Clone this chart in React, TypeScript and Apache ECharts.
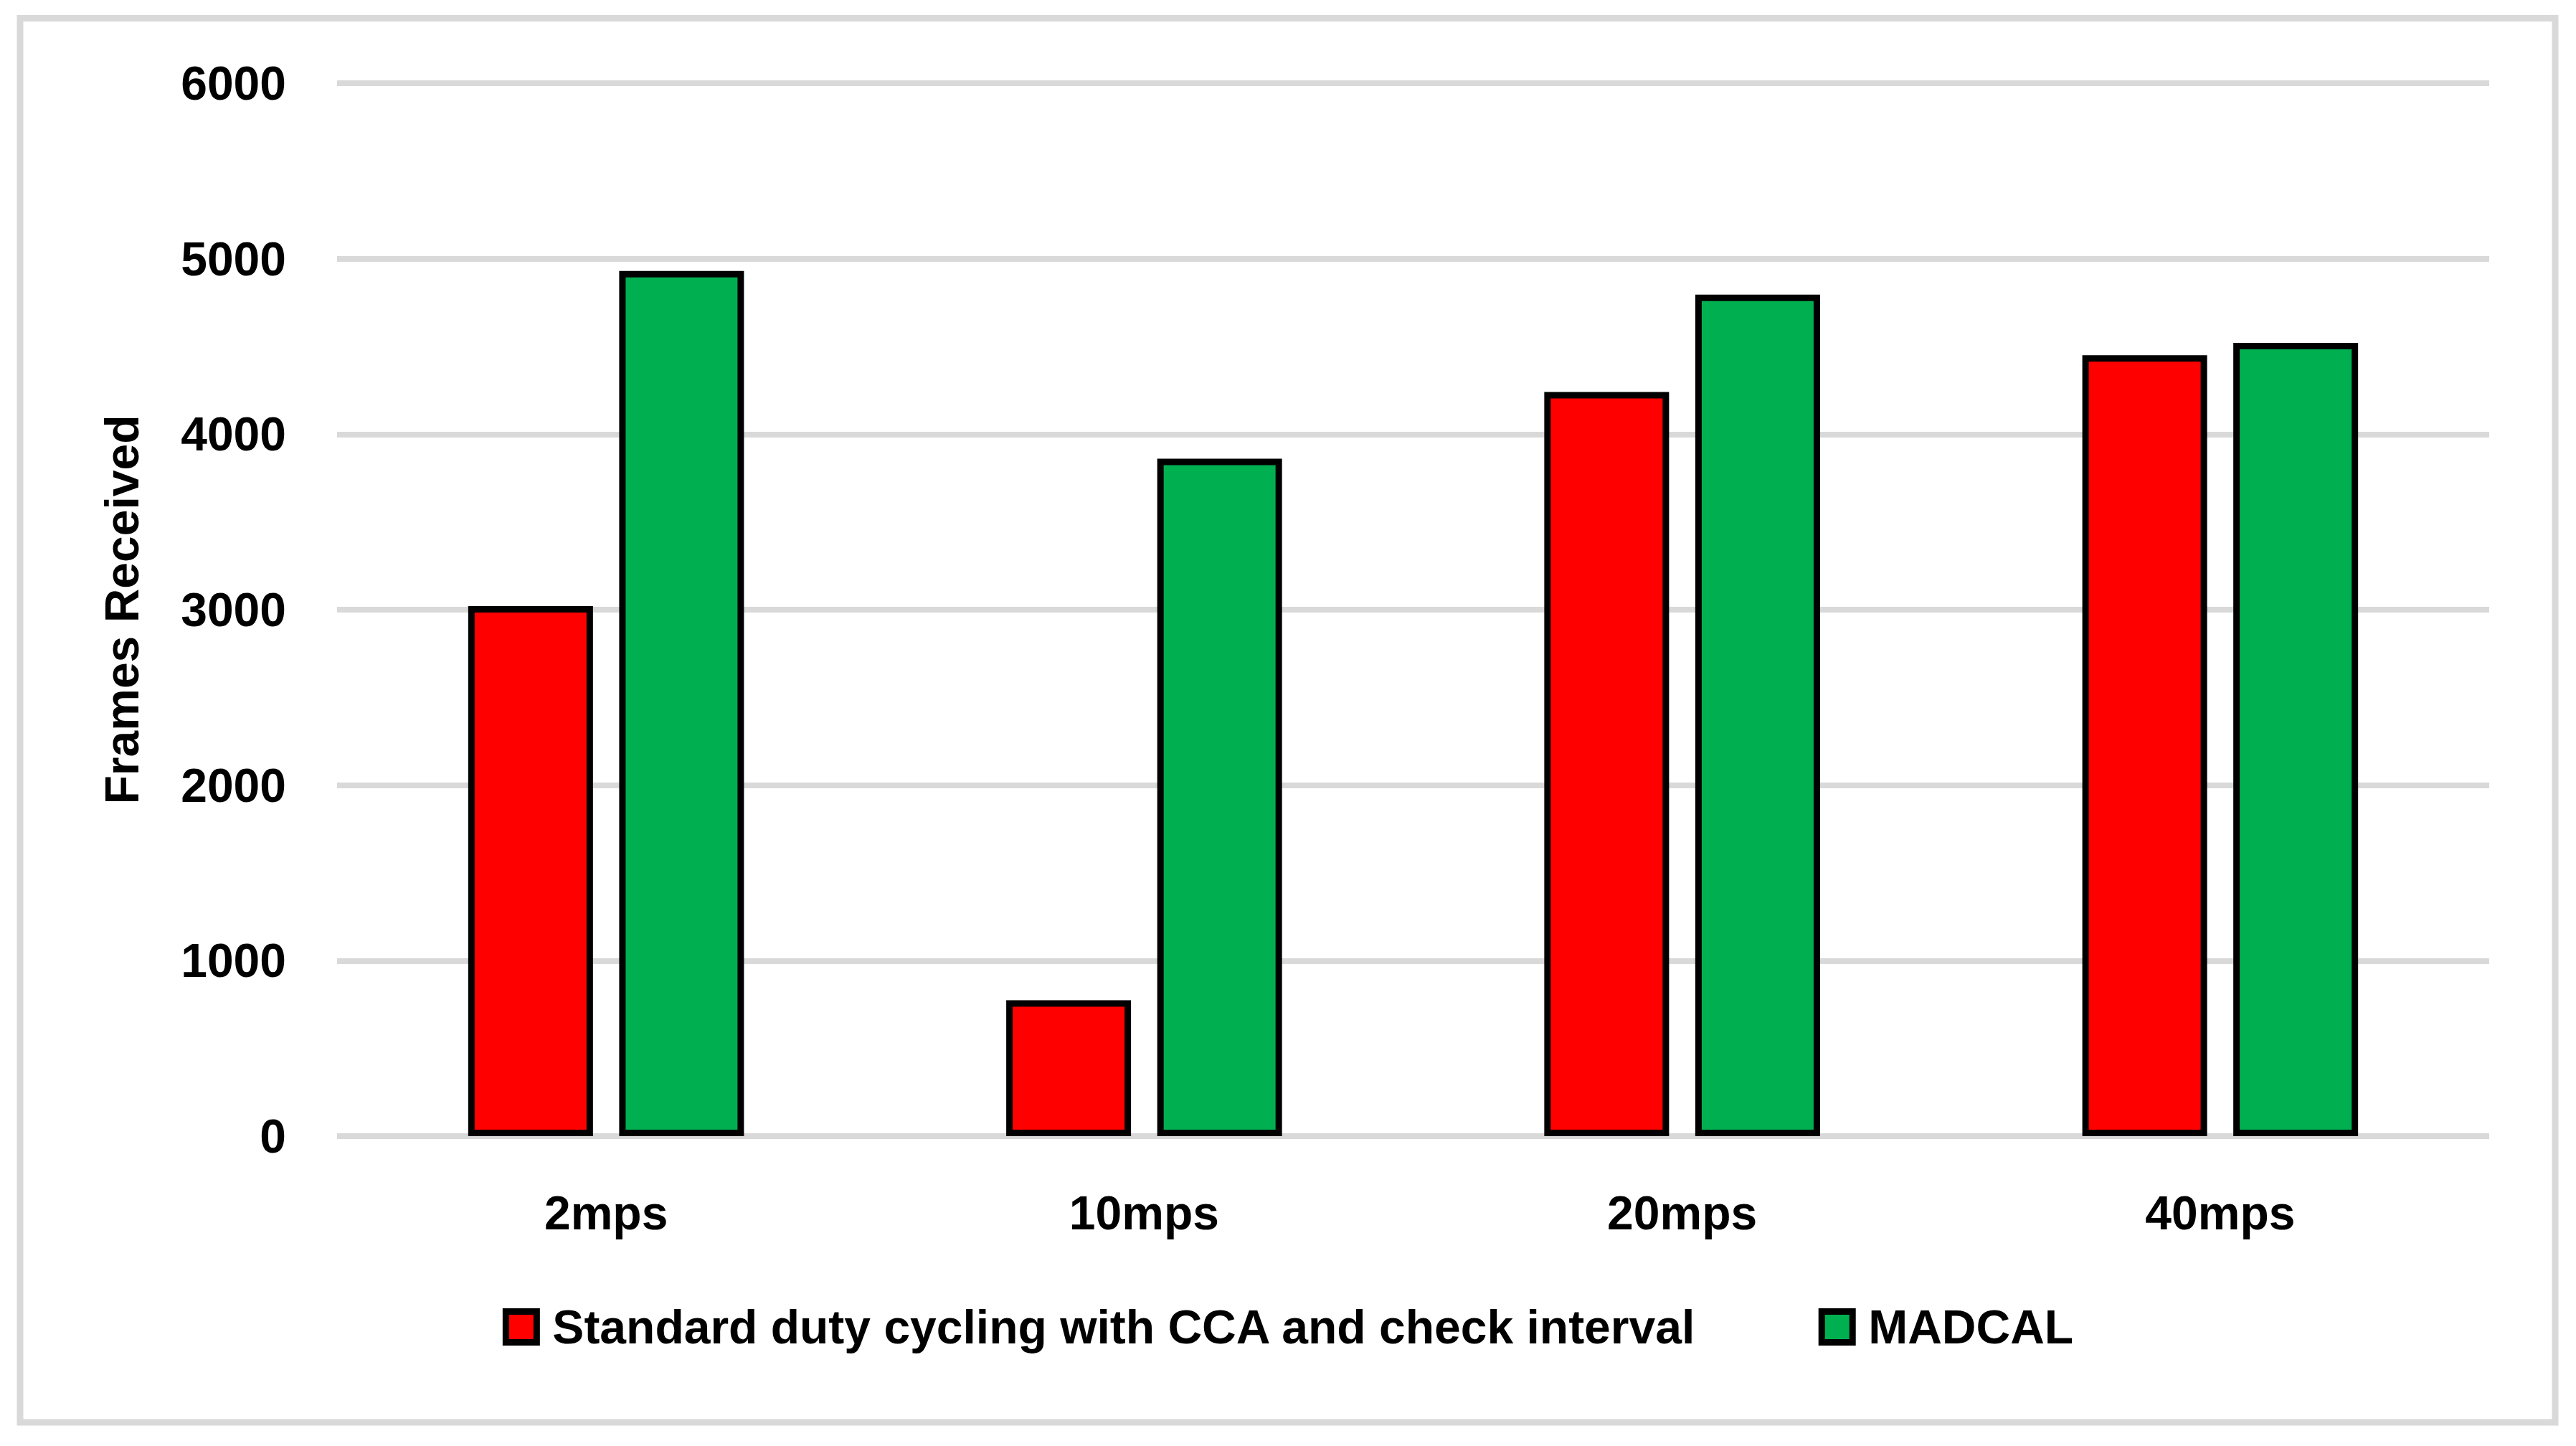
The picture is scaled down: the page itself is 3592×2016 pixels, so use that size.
import React, { useEffect, useRef } from "react";
import * as echarts from "echarts";

const categories = ["2mps", "10mps", "20mps", "40mps"];
const standardValues = [3020, 775, 4240, 4450];
const madcalValues = [4930, 3860, 4795, 4520];
const seriesNames = ["Standard duty cycling with CCA and check interval", "MADCAL"];
const yTicks = { min: 0, max: 6000, interval: 1000 };

const FONT = "'Liberation Sans', Arial, sans-serif";

export default function App() {
  const ref = useRef<HTMLDivElement>(null);
  useEffect(() => {
    document.body.style.margin = "0";
    const chart = echarts.init(ref.current!, null, { renderer: "svg" });
    chart.setOption({
      animation: false,
      backgroundColor: "#ffffff",
      textStyle: { fontFamily: FONT, fontWeight: "bold", color: "#000" },
      graphic: [
        {
          type: "rect",
          shape: { x: 28, y: 25.5, width: 3535, height: 1957.5 },
          style: { fill: "none", stroke: "#d9d9d9", lineWidth: 9 },
          silent: true,
        },
      ],
      grid: { left: 470, right: 121, top: 116, bottom: 432, containLabel: false },
      legend: {
        left: "center",
        top: 1812,
        itemWidth: 43,
        itemHeight: 43,
        itemGap: 170,
        icon: "rect",
        itemStyle: { borderColor: "#000", borderWidth: 9 },
        textStyle: {
          fontFamily: FONT,
          fontWeight: "bold",
          fontSize: 66,
          color: "#000",
          padding: [0, 0, 0, 17],
        },
        data: seriesNames,
      },
      xAxis: {
        type: "category",
        data: categories,
        axisLine: { show: false },
        axisTick: { show: false },
        axisLabel: {
          fontFamily: FONT,
          fontWeight: "bold",
          fontSize: 66,
          color: "#000",
          margin: 74,
        },
      },
      yAxis: {
        type: "value",
        min: yTicks.min,
        max: yTicks.max,
        interval: yTicks.interval,
        name: "Frames Received",
        nameLocation: "middle",
        nameGap: 267,
        nameRotate: 90,
        nameTextStyle: { fontFamily: FONT, fontWeight: "bold", fontSize: 66, color: "#000" },
        axisLine: { show: false },
        axisTick: { show: false },
        axisLabel: {
          fontFamily: FONT,
          fontWeight: "bold",
          fontSize: 66,
          color: "#000",
          margin: 71,
          formatter: (v: number) => String(v),
        },
        splitLine: { lineStyle: { color: "#d9d9d9", width: 8 } },
      },
      series: [
        {
          name: seriesNames[0],
          type: "bar",
          data: standardValues,
          barWidth: 174,
          barGap: "21%",
          itemStyle: { color: "#ff0000", borderColor: "#000", borderWidth: 9 },
        },
        {
          name: seriesNames[1],
          type: "bar",
          data: madcalValues,
          barWidth: 174,
          barGap: "21%",
          itemStyle: { color: "#00b050", borderColor: "#000", borderWidth: 9 },
        },
      ],
    });
    return () => chart.dispose();
  }, []);
  return <div ref={ref} style={{ width: "3592px", height: "2016px" }} />;
}
